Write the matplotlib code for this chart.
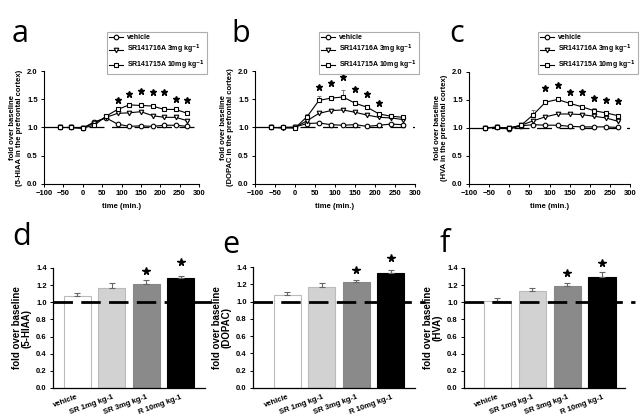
import matplotlib
matplotlib.use('Agg')
import matplotlib.pyplot as plt

plt.rcParams['font.family'] = ['Liberation Sans', 'DejaVu Sans']
plt.rcParams['font.weight'] = 'bold'
plt.rcParams['mathtext.default'] = 'bf'

# time course data (fold over baseline)
time = [-60, -30, 0, 30, 60, 90, 120, 150, 180, 210, 240, 270]

hiaa_veh = [1.0, 1.0, 0.99, 1.10, 1.17, 1.06, 1.02, 1.03, 1.02, 1.04, 1.04, 1.02]
hiaa_sr3 = [1.0, 1.0, 0.99, 1.08, 1.18, 1.25, 1.26, 1.28, 1.21, 1.18, 1.18, 1.12]
hiaa_sr10 = [1.0, 1.0, 0.99, 1.04, 1.20, 1.32, 1.40, 1.39, 1.38, 1.32, 1.32, 1.25]
hiaa_stars_t = [90, 120, 150, 180, 210, 240, 270]
hiaa_stars_y = [1.48, 1.60, 1.65, 1.63, 1.63, 1.51, 1.48]

dopac_veh = [1.0, 1.0, 1.01, 1.07, 1.08, 1.05, 1.04, 1.05, 1.02, 1.04, 1.06, 1.05]
dopac_sr3 = [1.0, 0.99, 1.0, 1.12, 1.25, 1.30, 1.31, 1.27, 1.22, 1.18, 1.17, 1.14]
dopac_sr10 = [1.0, 1.0, 0.99, 1.19, 1.48, 1.52, 1.54, 1.43, 1.36, 1.24, 1.20, 1.18]
dopac_stars_t = [60, 90, 120, 150, 180, 210]
dopac_stars_y = [1.72, 1.78, 1.89, 1.68, 1.60, 1.43]

hva_veh = [1.0, 1.02, 0.98, 1.04, 1.06, 1.05, 1.05, 1.03, 1.02, 1.02, 1.02, 1.01]
hva_sr3 = [1.0, 1.01, 1.0, 1.05, 1.13, 1.20, 1.25, 1.25, 1.24, 1.21, 1.18, 1.12]
hva_sr10 = [1.0, 1.01, 1.0, 1.05, 1.24, 1.46, 1.51, 1.44, 1.38, 1.31, 1.27, 1.22]
hva_stars_t = [90, 120, 150, 180, 210, 240, 270]
hva_stars_y = [1.72, 1.76, 1.65, 1.64, 1.54, 1.50, 1.48]

# upward error bars (rough)
err_veh = [0.01, 0.01, 0.01, 0.02, 0.02, 0.02, 0.01, 0.02, 0.01, 0.02, 0.02, 0.01]
err_sr3 = [0.01, 0.01, 0.01, 0.03, 0.03, 0.03, 0.03, 0.03, 0.03, 0.03, 0.03, 0.03]
hiaa_err10 = [0.01, 0.01, 0.01, 0.03, 0.04, 0.04, 0.03, 0.03, 0.03, 0.03, 0.04, 0.03]
dopac_err10 = [0.01, 0.01, 0.01, 0.05, 0.08, 0.04, 0.13, 0.04, 0.03, 0.03, 0.03, 0.03]
hva_err10 = [0.01, 0.01, 0.01, 0.02, 0.08, 0.04, 0.04, 0.04, 0.03, 0.04, 0.03, 0.03]

legend_labels = ['vehicle', 'SR141716A 3mg kg$^{-1}$', 'SR141715A 10mg kg$^{-1}$']

# bar data
bar_labels = ['vehicle', 'SR 1mg kg-1', 'SR 3mg kg-1', 'R 10mg kg-1']
bar_colors = ['white', '#d2d2d2', '#8a8a8a', 'black']
hiaa_bars = [1.07, 1.17, 1.21, 1.28]
hiaa_bar_err = [0.04, 0.05, 0.05, 0.03]
dopac_bars = [1.08, 1.17, 1.23, 1.33]
dopac_bar_err = [0.03, 0.04, 0.02, 0.03]
hva_bars = [1.02, 1.13, 1.19, 1.30]
hva_bar_err = [0.03, 0.04, 0.03, 0.05]
bar_star_idx = [2, 3]

W, H = 640, 417
fig = plt.figure(figsize=(6.4, 4.17), dpi=100)


def px_axes(left, right, top, bottom):
    return fig.add_axes([left / W, 1 - bottom / H, (right - left) / W, (bottom - top) / H])


def time_panel(rect, veh, sr3, sr10, e10, st_t, st_y, ylabel, leg_anchor):
    ax = px_axes(*rect)
    ax.axhline(1.0, color='black', lw=0.9, dashes=(12, 6), zorder=1)
    series = [(veh, err_veh, 'o'), (sr3, err_sr3, 'v'), (sr10, e10, 's')]
    handles = []
    for y, e, m in series:
        ax.errorbar(time, y, yerr=[[0] * len(e), e], fmt='none', ecolor='#777777',
                    elinewidth=0.7, capsize=1.5, capthick=0.7, zorder=2)
        h, = ax.plot(time, y, color='black', lw=0.8, marker=m, markersize=3.3,
                     markerfacecolor='white', markeredgecolor='black', markeredgewidth=0.8, zorder=3)
        handles.append(h)
    ax.plot(st_t, st_y, linestyle='none', marker='*', markersize=5, color='black')
    ax.set_xlim(-100, 300)
    ax.set_ylim(0, 2.0)
    ax.set_xticks(range(-100, 301, 50))
    ax.set_yticks([0.0, 0.5, 1.0, 1.5, 2.0])
    ax.set_yticklabels(['0.0', '0.5', '1.0', '1.5', '2.0'])
    ax.tick_params(labelsize=5.5, length=2.5, width=0.7, pad=2)
    for s in ['top', 'right']:
        ax.spines[s].set_visible(False)
    for s in ['left', 'bottom']:
        ax.spines[s].set_linewidth(0.8)
    ax.set_xlabel('time (min.)', fontsize=5.5, fontweight='bold', labelpad=4)
    ax.set_ylabel(ylabel, fontsize=5.5, fontweight='bold', labelpad=3, linespacing=1.0)
    leg = ax.legend(handles, legend_labels, loc='upper right',
                    bbox_to_anchor=(leg_anchor[0] / W, 1 - leg_anchor[1] / H),
                    bbox_transform=fig.transFigure, fontsize=5, frameon=True,
                    fancybox=False, edgecolor='#999999', handlelength=2.0,
                    handletextpad=0.5, borderpad=0.35, labelspacing=0.25, borderaxespad=0)
    leg.get_frame().set_linewidth(0.8)
    return ax


def bar_panel(rect, vals, errs, xlim, ylabel, star_y):
    ax = px_axes(*rect)
    x = range(len(vals))
    ax.bar(x, vals, width=0.78, color=bar_colors, edgecolor=['#bbbbbb', '#bbbbbb', '#888888', 'black'],
           linewidth=0.8, zorder=2)
    ax.errorbar(x, vals, yerr=[[0] * len(errs), errs], fmt='none', ecolor='#666666',
                elinewidth=0.8, capsize=2, capthick=0.8, zorder=3)
    ax.axhline(1.0, xmin=0, xmax=1.06, color='black', lw=2.0, dashes=(7, 3), zorder=4, clip_on=False)
    for i, sy in zip(bar_star_idx, star_y):
        ax.plot(i, sy, marker='*', markersize=5.5, color='black', clip_on=False)
    ax.set_xlim(*xlim)
    ax.set_ylim(0, 1.4)
    ax.set_yticks([0.0, 0.2, 0.4, 0.6, 0.8, 1.0, 1.2, 1.4])
    ax.set_yticklabels(['0.0', '0.2', '0.4', '0.6', '0.8', '1.0', '1.2', '1.4'])
    ax.set_xticks(list(x))
    ax.set_xticklabels(bar_labels, rotation=20, ha='right', rotation_mode='anchor')
    ax.tick_params(axis='y', labelsize=5.5, length=2.5, width=0.7, pad=2)
    ax.tick_params(axis='x', labelsize=5.5, length=0, pad=4)
    for s in ['top', 'right']:
        ax.spines[s].set_visible(False)
    for s in ['left', 'bottom']:
        ax.spines[s].set_linewidth(0.9)
    ax.set_ylabel(ylabel, fontsize=7, fontweight='bold', labelpad=3, linespacing=1.0)
    return ax


time_panel((44, 199, 71, 184), hiaa_veh, hiaa_sr3, hiaa_sr10, hiaa_err10, hiaa_stars_t, hiaa_stars_y,
           'fold over baseline\n(5-HIAA in the prefrontal cortex)', (207, 32))
time_panel((255, 415, 71, 184), dopac_veh, dopac_sr3, dopac_sr10, dopac_err10, dopac_stars_t, dopac_stars_y,
           'fold over baseline\n(DOPAC in the prefrontal cortex)', (419, 32))
time_panel((469, 630, 72, 184), hva_veh, hva_sr3, hva_sr10, hva_err10, hva_stars_t, hva_stars_y,
           'fold over baseline\n(HVA in the prefrontal cortex)', (638, 32))

bar_panel((53, 205, 268, 388), hiaa_bars, hiaa_bar_err, (-0.70, 3.71),
          'fold over baseline\n(5-HIAA)', [1.37, 1.47])
bar_panel((253, 415, 267, 388), dopac_bars, dopac_bar_err, (-1.0, 3.70),
          'fold over baseline\n(DOPAC)', [1.37, 1.50])
bar_panel((464, 625, 268, 388), hva_bars, hva_bar_err, (-0.96, 3.66),
          'fold over baseline\n(HVA)', [1.34, 1.46])

letters = [('a', 12, 42), ('b', 231, 42), ('c', 449, 42), ('d', 12, 245), ('e', 222, 253), ('f', 439, 252)]
for t, lx, ly in letters:
    fig.text(lx / W, 1 - ly / H, t, fontsize=22, fontweight='normal',
             family=['Open Sans', 'DejaVu Sans'], va='baseline', ha='left')

fig.savefig('out.png', dpi=100)
